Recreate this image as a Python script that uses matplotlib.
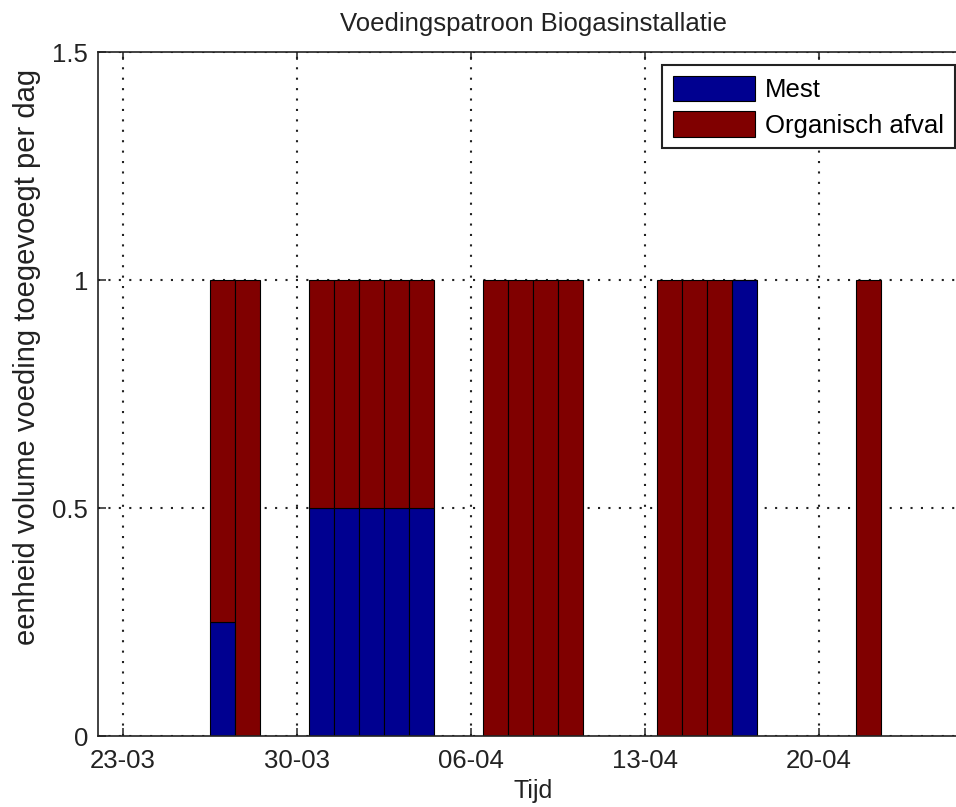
import matplotlib
matplotlib.use("Agg")
import matplotlib.pyplot as plt
import matplotlib.dates as mdates
from datetime import datetime

# ---- data ----
year = 2014
dates = ['27-03', '28-03', '31-03', '01-04', '02-04', '03-04', '04-04',
         '07-04', '08-04', '09-04', '10-04', '14-04', '15-04', '16-04',
         '17-04', '22-04']
mest = [0.25, 0, 0.5, 0.5, 0.5, 0.5, 0.5, 0, 0, 0, 0, 0, 0, 0, 1, 0]
organisch = [0.75, 1, 0.5, 0.5, 0.5, 0.5, 0.5, 1, 1, 1, 1, 1, 1, 1, 0, 1]
series_labels = ['Mest', 'Organisch afval']
tick_dates = ['23-03', '30-03', '06-04', '13-04', '20-04']
xlim_dates = ['22-03', '26-04']
yticks = [0, 0.5, 1, 1.5]
ytick_labels = ['0', '0.5', '1', '1.5']

def to_dt(s):
    return datetime.strptime(f"{s}-{year}", "%d-%m-%Y")

plt.rcParams['font.family'] = ['Liberation Sans', 'DejaVu Sans']

fig = plt.figure(figsize=(9.56, 8.07), dpi=100)
ax = fig.add_axes([98/956, 71/807, 870/956, 684/807])

x = [mdates.date2num(to_dt(d)) for d in dates]
blue = '#000090'
red = '#800000'
ax.bar(x, mest, width=1.0, color=blue, edgecolor='black', linewidth=0.8,
       label=series_labels[0], zorder=2)
ax.bar(x, organisch, width=1.0, bottom=mest, color=red, edgecolor='black',
       linewidth=0.8, label=series_labels[1], zorder=2)

ax.set_xlim(mdates.date2num(to_dt(xlim_dates[0])), mdates.date2num(to_dt(xlim_dates[1])))
ax.set_ylim(0, 1.5)
ax.set_xticks([mdates.date2num(to_dt(d)) for d in tick_dates])
ax.set_xticklabels(tick_dates)
ax.set_yticks(yticks)
ax.set_yticklabels(ytick_labels)

ax.grid(True, color='#222222', linestyle=(0, (1, 4)), linewidth=1.5, zorder=0)
ax.set_axisbelow(True)

ax.tick_params(direction='in', length=6, width=1.1, top=True, right=False,
               labelsize=18.5, colors='#222222')
ax.tick_params(axis='x', pad=9)
ax.tick_params(axis='y', pad=7)
for s in ax.spines.values():
    s.set_linewidth(1.2)
    s.set_color('#222222')
ax.spines['right'].set_visible(False)

ax.set_title('Voedingspatroon Biogasinstallatie', fontsize=18.5, pad=15, color='#222222')
ax.set_xlabel('Tijd', fontsize=18, labelpad=5, color='#222222')
ax.set_ylabel('eenheid volume voeding toegevoegt per dag', fontsize=21, color='#222222')
ax.yaxis.set_label_coords((41 - 98) / 870, (736 - 357) / 684)

leg = ax.legend(loc='upper right', bbox_to_anchor=(955/956, (807-65)/807),
                bbox_transform=fig.transFigure, fontsize=18.5, fancybox=False,
                framealpha=1, edgecolor='#222222', borderaxespad=0,
                handlelength=3.2, handleheight=1.15, handletextpad=0.4,
                labelspacing=0.35, borderpad=0.42)
leg.get_frame().set_linewidth(1.5)

fig.savefig('out.png', dpi=100, facecolor='white')
